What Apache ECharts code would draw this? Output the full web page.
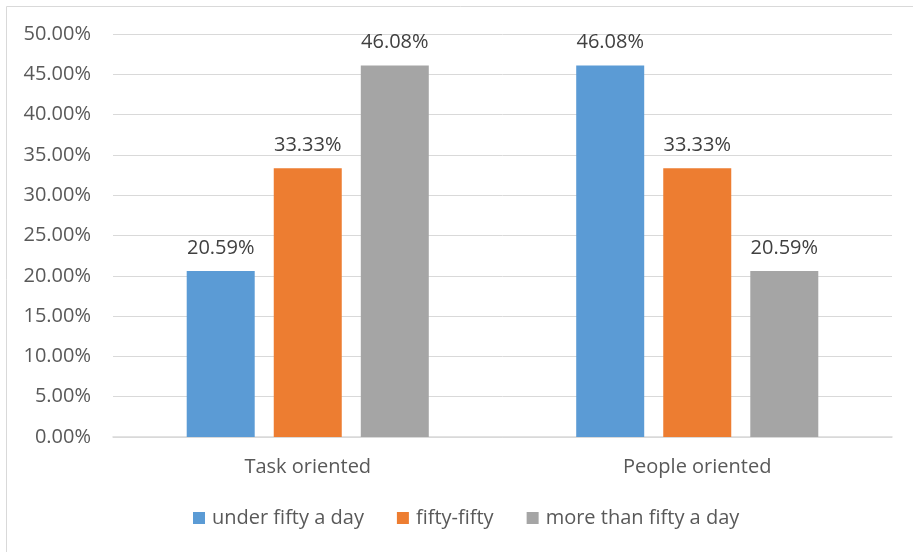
<!DOCTYPE html>
<html><head><meta charset="utf-8">
<script src="https://cdn.jsdelivr.net/npm/echarts@6/dist/echarts.min.js"></script>
<style>html,body{margin:0;padding:0;background:#fff}#c{width:913px;height:552px}</style>
</head><body><div id="c"></div>
<script>
const categories = ['Task oriented', 'People oriented'];
const underFifty = [20.59, 46.08];
const fiftyFifty = [33.33, 33.33];
const moreThanFifty = [46.08, 20.59];
const seriesNames = ['under fifty a day', 'fifty-fifty', 'more than fifty a day'];
const colors = ['#5b9bd5', '#ed7d31', '#a5a5a5'];

const font = '"Open Sans", sans-serif';
const fs = 20;
const chart = echarts.init(document.getElementById('c'), null, {renderer: 'canvas'});
const mk = (name, data, color) => ({
  name, type: 'bar', data, barWidth: 68, barGap: '28%',
  itemStyle: {color},
  label: {show: true, position: 'top', distance: 13, color: '#404040', fontFamily: font, fontSize: fs,
    formatter: p => p.value.toFixed(2) + '%'}
});
chart.setOption({
  animation: false,
  textStyle: {fontFamily: font},
  graphic: [{type: 'rect', shape: {x: 6.5, y: 6.5, width: 930, height: 570},
    style: {fill: 'none', stroke: '#d9d9d9', lineWidth: 1}, silent: true, z: -1}],
  grid: {left: 113, right: 21, top: 34, bottom: 115},
  legend: {bottom: 19, left: 188, itemWidth: 12, itemHeight: 12, itemGap: 33,
    icon: 'rect', textStyle: {color: '#595959', fontSize: fs, fontFamily: font, padding: [0, 0, 0, 2]},
    data: seriesNames},
  xAxis: {type: 'category', data: categories,
    axisLine: {lineStyle: {color: '#d9d9d9', width: 1.5}}, axisTick: {show: false},
    axisLabel: {color: '#595959', fontSize: fs, fontFamily: font, margin: 20}},
  yAxis: {type: 'value', min: 0, max: 50, interval: 5,
    axisLine: {show: false}, axisTick: {show: false},
    splitLine: {lineStyle: {color: '#d9d9d9', width: 1}},
    axisLabel: {color: '#595959', fontSize: fs, fontFamily: font, margin: 22,
      formatter: v => v.toFixed(2) + '%'}},
  series: [mk(seriesNames[0], underFifty, colors[0]), mk(seriesNames[1], fiftyFifty, colors[1]), mk(seriesNames[2], moreThanFifty, colors[2])]
});
</script></body></html>
